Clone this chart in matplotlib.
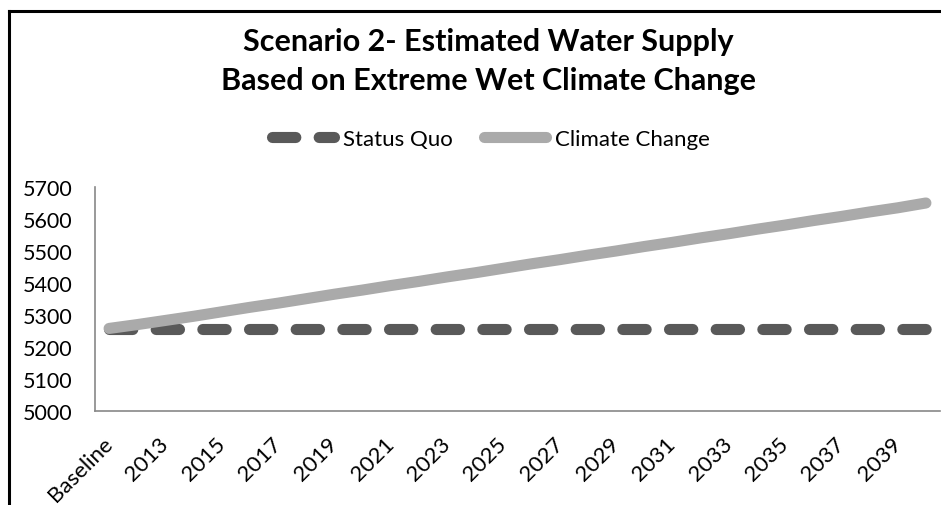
# Scenario 2 water supply chart, status quo vs extreme wet climate change

import matplotlib.pyplot as plt
import matplotlib.transforms as mtransforms
from matplotlib.lines import Line2D

plt.rcParams['font.family'] = ['Lato', 'DejaVu Sans']

years = ['Baseline'] + [str(y) for y in range(2012, 2041)]

status_quo = [5256] * 30

climate_change = [5258, 5270, 5283, 5296, 5310, 5324, 5337, 5351, 5365, 5378,
                  5392, 5405, 5419, 5432, 5446, 5460, 5473, 5487, 5500, 5514,
                  5527, 5541, 5554, 5568, 5581, 5595, 5608, 5622, 5635, 5650]

y_ticks = [5000, 5100, 5200, 5300, 5400, 5500, 5600, 5700]


def run():
    fig = plt.figure(figsize=(9.41, 5.06), dpi=100)
    ax = fig.add_axes([95 / 941, 1 - 412 / 506, 845 / 941, 224 / 506])

    x = list(range(len(years)))
    ax.plot(x, status_quo, color='#595959', linewidth=8, dashes=(2.1, 2.1),
            dash_capstyle='round', label='Status Quo')
    ax.plot(x, climate_change, color='#aaaaaa', linewidth=8,
            solid_capstyle='round', label='Climate Change')

    ax.set_xlim(-0.5, len(years) - 0.5)
    ax.set_ylim(5000, 5700)
    ax.set_yticks(y_ticks)
    ax.set_xticks(x[::2])
    ax.set_xticklabels(years[::2], rotation=45, ha='right', va='top',
                       rotation_mode='anchor')
    ax.tick_params(length=0, labelsize=16)
    ax.tick_params(axis='x', pad=16)
    ax.tick_params(axis='y', pad=16.5, labelsize=15.5)

    # nudge the rotated labels left so their ends sit on the ticks
    shift = mtransforms.ScaledTranslation(-7 / 100, 0, fig.dpi_scale_trans)
    for lab in ax.get_xticklabels():
        lab.set_transform(lab.get_transform() + shift)

    for side in ['top', 'right']:
        ax.spines[side].set_visible(False)
    for side in ['left', 'bottom']:
        ax.spines[side].set_color('#888888')
        ax.spines[side].set_linewidth(1.2)

    fig.text(488 / 941, 1 - 42 / 506, 'Scenario 2- Estimated Water Supply',
             ha='center', va='center', fontsize=22, fontweight='bold')
    fig.text(488 / 941, 1 - 81 / 506, 'Based on Extreme Wet Climate Change',
             ha='center', va='center', fontsize=22, fontweight='bold')

    fig.legend(loc='center', bbox_to_anchor=(491 / 941, 1 - 140 / 506), ncol=2,
               frameon=False, fontsize=16, handlelength=2.8, columnspacing=1.4,
               handletextpad=0.4)

    # chart frame (left and top edge only)
    fig.add_artist(Line2D([9 / 941, 9 / 941], [0, 1 - 12 / 506], color='black', linewidth=2.2))
    fig.add_artist(Line2D([9 / 941, 1], [1 - 12 / 506, 1 - 12 / 506], color='black', linewidth=2.2))

    fig.savefig('out.png', dpi=100)


if __name__ == '__main__':
    run()
